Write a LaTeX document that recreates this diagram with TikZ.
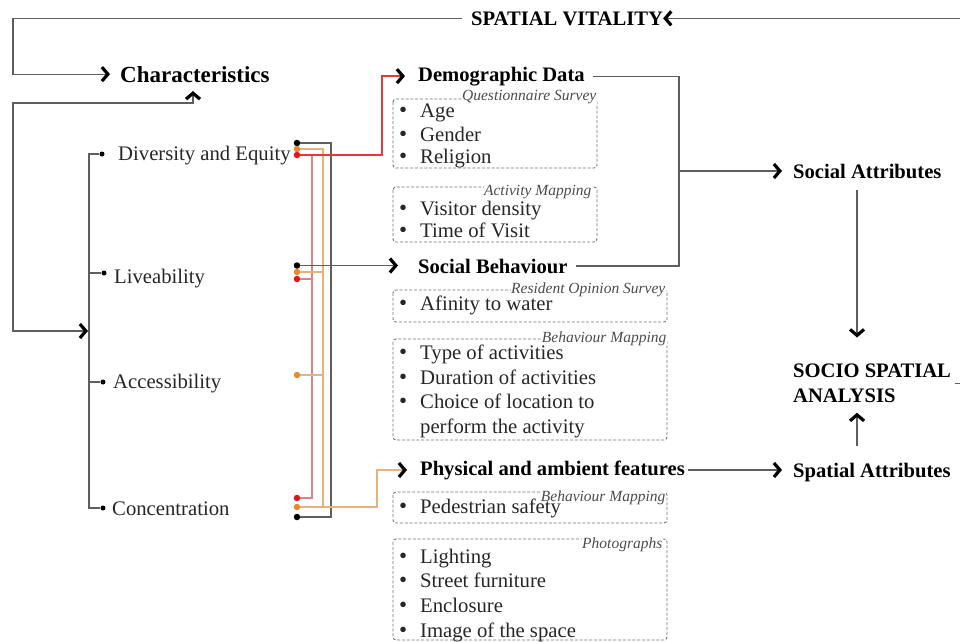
\documentclass[tikz,border=0pt]{standalone}
\usepackage{fontspec}
\setmainfont{Liberation Serif}
\usetikzlibrary{arrows.meta,calc}

\definecolor{linegray}{HTML}{5E5E5E}
\definecolor{dotorange}{HTML}{E58A2E}
\definecolor{lineorange}{HTML}{E6B37E}
\definecolor{dotred}{HTML}{E8121A}
\definecolor{linered}{HTML}{E23A3A}
\definecolor{pinkred}{HTML}{D98585}

\newcommand{\itembul}{\makebox[21pt][l]{\fontsize{23}{25}\selectfont\textbullet}}

\tikzset{
  head/.style={anchor=base west,inner sep=0pt,font=\fontsize{20.6}{25}\selectfont\bfseries},
  body/.style={anchor=base west,inner sep=0pt,font=\fontsize{20.7}{25}\selectfont,text=black!85},
  item/.style={body,execute at begin node=\itembul},
  source/.style={anchor=base east,inner sep=0.5pt,fill=white,font=\fontsize{15.5}{17}\selectfont\itshape,text=black!70},
  conn/.style={draw=linegray,line width=1.1pt},
  dbox/.style={draw=black!55,dash pattern=on 3pt off 1.8pt,line width=0.9pt,rounded corners=3pt},
  tdot/.style={circle,fill=black,inner sep=0pt,minimum size=5pt},
  cdot/.style={circle,inner sep=0pt,minimum size=6.5pt},
  kline/.style={draw=linegray,line width=1.1pt},
  oline/.style={draw=lineorange,line width=1.2pt},
  rline/.style={draw=linered,line width=1.6pt},
  pline/.style={draw=pinkred,line width=1.1pt}
}

\begin{document}
\begin{tikzpicture}[x=1pt,y=-1pt,>={Straight Barb[length=6pt,width=14pt,line width=3.2pt,color=black]}]
\useasboundingbox (0,0) rectangle (960,641);

% Headings
\node[head] (vitality) at (471,25) {SPATIAL VITALITY};
\node[head,font=\fontsize{23}{27}\selectfont\bfseries] (charac) at (120,82) {Characteristics};
\node[head] (demog) at (418,81) {Demographic Data};
\node[head] (socbeh) at (418,273) {Social Behaviour};
\node[head] (physical) at (420,475) {Physical and ambient features};
\node[head] (socattr) at (793,178) {Social Attributes};
\node[head] (spatattr) at (793,477) {Spatial Attributes};
\node[head,anchor=north west,align=left] (analysis) at (793,363.5) {SOCIO SPATIAL\\ANALYSIS};

% Characteristics
\node[body] (divers) at (118,160) {Diversity and Equity};
\node[body] (live) at (114,283) {Liveability};
\node[body] (access) at (113,388) {Accessibility};
\node[body] (concen) at (112,515) {Concentration};

\node[tdot] (divdot) at (102,154) {};
\node[tdot] (livdot) at (104,273) {};
\node[tdot] (accdot) at (103,382) {};
\node[tdot] (concdot) at (103,508) {};

% helper columns
\coordinate (leftcol) at (13,0);
\coordinate (tree) at (89,0);
\coordinate (rbus) at (312,0);
\coordinate (obus) at (323,0);
\coordinate (kbus) at (331,0);
\coordinate (orise) at (377,0);
\coordinate (rrise) at (382,0);
\coordinate (joincol) at (679,0);
\coordinate (anacol) at (857,0);
\coordinate (rightedge) at (960,0);
\coordinate (lowloop) at (13,103);
\coordinate (charin) at (193,91);
\coordinate (treein) at (88,331);

% Tree and loops
\draw[conn] (divdot) -- (divdot -| tree) -- (concdot -| tree) -- (concdot);
\draw[conn] (livdot) -- (livdot -| tree);
\draw[conn] (accdot) -- (accdot -| tree);
\draw[conn,<->] (charin) |- (lowloop) |- (treein);
\draw[conn,->,shorten <=9pt,shorten >=10pt] (vitality.west) -| (leftcol |- charac.west) -- (charac.west);
\draw[conn,->] (rightedge |- vitality.east) -- (vitality.east);

% Coloured dots
\node[cdot,fill=black] (dvk) at (297,143) {};
\node[cdot,fill=dotorange] (dvo) at (297,149) {};
\node[cdot,fill=dotred] (dvr) at (297,155) {};
\node[cdot,fill=black] (lvk) at (297,265.5) {};
\node[cdot,fill=dotorange] (lvo) at (297,272) {};
\node[cdot,fill=dotred] (lvr) at (297,279) {};
\node[cdot,fill=dotorange] (aco) at (297,375) {};
\node[cdot,fill=dotred] (ccr) at (297,498) {};
\node[cdot,fill=dotorange] (cco) at (297,507) {};
\node[cdot,fill=black] (cck) at (297,517) {};

% Links to data groups
\draw[pline] (dvr -| rbus) -- (ccr -| rbus) -- (ccr);
\draw[pline] (lvr) -- (lvr -| rbus);
\draw[oline] (dvo) -- (dvo -| obus) -- (cco -| obus);
\draw[oline] (lvo) -- (lvo -| obus);
\draw[oline] (aco) -- (aco -| obus);
\draw[kline] (dvk) -- (dvk -| kbus) -- (cck -| kbus) -- (cck);
\draw[kline,->,shorten >=20pt] (lvk) -- (lvk -| socbeh.west);
\draw[oline,->,shorten >=13pt] (cco) -| (orise |- physical.west) -- (physical.west);
\draw[rline,->,shorten >=13pt] (dvr) -| (rrise |- demog.west) -- (demog.west);

% Attributes
\draw[conn,shorten <=8pt,shorten >=8pt] (demog.east) -| (joincol |- socbeh.east) -- (socbeh.east);
\draw[conn,->,shorten >=11pt] (joincol |- socattr.west) -- (socattr.west);
\draw[conn,->,shorten <=3pt,shorten >=11pt] (physical.east) -- (physical.east -| spatattr.west);
\draw[conn,->,shorten <=12pt,shorten >=26pt] (socattr.south -| anacol) -- (analysis.north -| anacol);
\draw[conn,->,shorten <=17pt,shorten >=10pt] (spatattr.north -| anacol) -- (analysis.south -| anacol);
\draw[conn] ($(analysis.east)+(4,0)$) -- (rightedge |- analysis.east);

% Data boxes
\draw[dbox] (393,99) rectangle (597,168);
\draw[dbox] (393,187) rectangle (597,242);
\draw[dbox] (393,290) rectangle (667,322);
\draw[dbox] (393,339) rectangle (667,440);
\draw[dbox] (393,492) rectangle (667,523);
\draw[dbox] (393,539) rectangle (667,640);

\node[source] (qsurvey) at (597,100) {Questionnaire Survey};
\node[source] (actmap) at (592,195.5) {Activity Mapping};
\node[source] (ropinion) at (666,293.5) {Resident Opinion Survey};
\node[source] (bmapa) at (667,342) {Behaviour Mapping};
\node[source] (bmapb) at (666,501) {Behaviour Mapping};
\node[source] (photo) at (663,548) {Photographs};

\foreach \yy/\tx in {117/Age,141/Gender,163/Religion,215/Visitor density,237/Time of Visit,
                     310/Afinity to water,359/Type of activities,384/Duration of activities,
                     408/Choice of location to,513/Pedestrian safety,563/Lighting,
                     587/Street furniture,612/Enclosure,637/Image of the space}
  \node[item] (item\yy) at (399,\yy) {\tx};
\node[body] (perform) at (420,433) {perform the activity};

\end{tikzpicture}
\end{document}
